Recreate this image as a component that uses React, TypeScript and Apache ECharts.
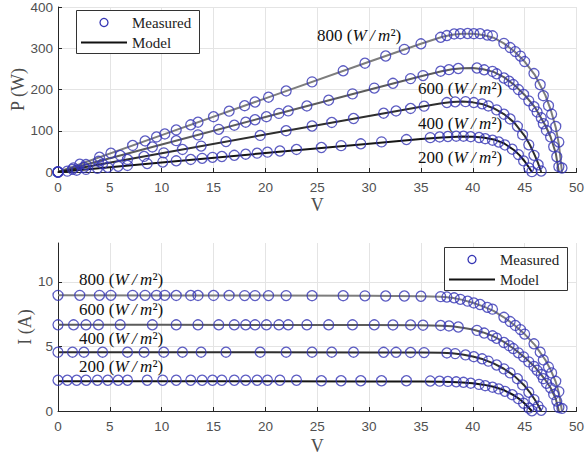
import React, { useEffect, useRef } from "react";
import * as echarts from "echarts";

// Measured module data at four irradiance levels: voltage (V), current (A), power (W)
const V800 = [0, 2.1, 4.0, 5.1, 7.2, 8.4, 9.5, 10.3, 11.4, 12.8, 13.5, 15.0, 16.5, 18.0, 19.0, 20.3, 22.0, 24.5, 27.5, 29.6, 31.6, 33.4, 35.0, 36.9, 37.5, 38.2, 38.8, 39.5, 40.1, 40.7, 41.4, 41.9, 43.0, 43.6, 44.1, 44.6, 45.0, 45.9, 46.5, 46.8, 47.3, 47.6, 48.0, 48.3, 48.6];
const I800 = [8.95, 8.95, 8.95, 8.95, 8.95, 8.95, 8.95, 8.95, 8.94, 8.94, 8.94, 8.94, 8.94, 8.93, 8.93, 8.93, 8.93, 8.92, 8.92, 8.91, 8.9, 8.9, 8.88, 8.85, 8.82, 8.76, 8.64, 8.5, 8.36, 8.24, 8.02, 7.88, 7.25, 6.92, 6.62, 6.3, 5.95, 5.2, 4.55, 3.95, 3.4, 2.95, 2.3, 1.5, 0.2];
const P800 = [0, 18.8, 35.8, 45.6, 64.4, 75.2, 85.0, 92.2, 101.9, 114.4, 120.7, 134.1, 147.5, 160.7, 169.7, 181.3, 196.5, 218.5, 245.3, 263.7, 281.2, 297.3, 310.8, 326.6, 330.8, 334.6, 335.2, 335.8, 335.2, 335.4, 332.0, 330.2, 311.8, 301.7, 291.9, 281.0, 267.8, 238.7, 211.6, 184.9, 160.8, 140.4, 110.4, 72.5, 9.7];

const V600 = [0, 1.5, 2.7, 3.9, 6.0, 9.1, 11.4, 13.5, 15.5, 17.0, 18.1, 19.0, 20.1, 21.3, 22.2, 24.0, 26.1, 28.4, 30.5, 32.3, 34.0, 35.2, 36.9, 37.7, 38.6, 40.4, 41.1, 41.9, 42.3, 43.0, 43.5, 43.9, 44.4, 44.9, 45.4, 45.9, 46.2, 46.6, 46.8, 47.1, 47.5, 47.8, 48.1, 48.3];
const I600 = [6.67, 6.67, 6.67, 6.67, 6.67, 6.67, 6.67, 6.67, 6.67, 6.67, 6.67, 6.67, 6.67, 6.67, 6.67, 6.67, 6.67, 6.67, 6.67, 6.66, 6.66, 6.64, 6.62, 6.58, 6.5, 6.24, 6.03, 5.82, 5.63, 5.3, 5.06, 4.83, 4.5, 4.19, 3.8, 3.45, 3.15, 2.82, 2.5, 2.14, 1.79, 1.28, 0.77, 0.27];
const P600 = [0, 10.0, 18.0, 26.0, 40.0, 60.7, 76.0, 90.0, 103.4, 113.4, 120.7, 126.7, 134.1, 142.1, 148.1, 160.1, 174.1, 189.4, 203.4, 215.1, 226.4, 233.7, 244.3, 248.1, 250.9, 252.1, 247.8, 243.9, 238.1, 227.9, 220.1, 212.0, 199.8, 188.1, 172.5, 158.4, 145.5, 131.4, 117.0, 100.8, 85.0, 61.2, 37.0, 13.0];

const V400 = [0, 1.4, 2.5, 4.3, 6.7, 8.3, 10.2, 12.0, 13.8, 16.2, 19.5, 22.0, 24.5, 26.4, 28.5, 31.4, 32.6, 34.0, 35.3, 37.5, 38.3, 39.3, 40.1, 40.9, 41.5, 42.3, 43.0, 43.6, 44.3, 44.8, 45.4, 45.9, 46.3, 46.6];
const I400 = [4.55, 4.55, 4.55, 4.55, 4.55, 4.55, 4.55, 4.55, 4.55, 4.55, 4.55, 4.55, 4.55, 4.55, 4.55, 4.54, 4.54, 4.53, 4.52, 4.49, 4.44, 4.34, 4.2, 4.04, 3.86, 3.56, 3.26, 2.95, 2.5, 2.02, 1.45, 0.88, 0.38, 0.05];
const P400 = [0, 6.4, 11.4, 19.6, 30.5, 37.8, 46.4, 54.6, 62.8, 73.7, 88.7, 100.1, 111.5, 120.1, 129.7, 142.6, 148.0, 154.0, 159.6, 168.4, 170.1, 170.6, 168.4, 165.2, 160.2, 150.6, 140.2, 128.6, 110.8, 90.5, 65.8, 40.4, 17.6, 2.3];

const V200 = [0, 0.9, 1.8, 2.7, 3.8, 4.8, 5.8, 6.7, 8.6, 10.1, 11.4, 12.8, 13.9, 14.9, 15.8, 17.0, 18.1, 19.2, 20.2, 21.4, 23.0, 25.4, 27.3, 29.2, 31.2, 33.6, 35.9, 36.8, 37.6, 38.4, 39.1, 39.8, 40.6, 41.2, 41.9, 42.5, 43.1, 43.8, 44.4, 44.9, 45.4, 45.7];
const I200 = [2.38, 2.38, 2.38, 2.38, 2.38, 2.38, 2.38, 2.38, 2.38, 2.38, 2.38, 2.38, 2.38, 2.38, 2.38, 2.38, 2.38, 2.38, 2.38, 2.38, 2.38, 2.34, 2.34, 2.34, 2.34, 2.34, 2.32, 2.31, 2.29, 2.26, 2.22, 2.15, 2.06, 1.96, 1.84, 1.71, 1.52, 1.26, 0.95, 0.6, 0.22, 0.02];
const P200 = [0, 2.1, 4.3, 6.4, 9.0, 11.4, 13.8, 15.9, 20.5, 24.0, 27.1, 30.5, 33.1, 35.5, 37.6, 40.5, 43.1, 45.7, 48.1, 50.9, 54.7, 59.4, 63.9, 68.3, 73.0, 78.6, 83.3, 85.0, 86.1, 86.8, 86.8, 85.6, 83.6, 80.8, 77.1, 72.7, 65.5, 55.2, 42.2, 26.9, 10.0, 0.9];

// Model curves (single-diode fit) at the same irradiance levels
const MV800 = [0, 10, 20, 30, 35, 37, 38, 39, 40, 41, 42, 43, 44, 45, 46, 47, 47.5, 48, 48.3, 48.6];
const MI800 = [8.95, 8.94, 8.93, 8.91, 8.88, 8.84, 8.76, 8.6, 8.38, 8.1, 7.75, 7.25, 6.65, 5.95, 5.1, 3.95, 3.2, 2.25, 1.4, 0];
const MP800 = [0, 89.4, 178.6, 267.3, 310.8, 327.1, 332.9, 335.4, 335.2, 332.1, 325.5, 311.8, 292.6, 267.8, 234.6, 185.7, 152.0, 108.0, 67.6, 0];

const MV600 = [0, 10, 20, 30, 35, 37, 38, 39, 40, 41, 42, 43, 44, 45, 46, 47, 47.5, 48, 48.3];
const MI600 = [6.67, 6.67, 6.66, 6.65, 6.63, 6.6, 6.55, 6.45, 6.3, 6.08, 5.78, 5.35, 4.8, 4.15, 3.4, 2.4, 1.8, 0.95, 0];
const MP600 = [0, 66.7, 133.2, 199.5, 232.1, 244.2, 248.9, 251.6, 252.0, 249.3, 242.8, 230.1, 211.2, 186.8, 156.4, 112.8, 85.5, 45.6, 0];

const MV400 = [0, 10, 20, 30, 35, 37, 38, 39, 40, 41, 42, 43, 44, 45, 45.5, 46, 46.3, 46.6];
const MI400 = [4.55, 4.55, 4.54, 4.53, 4.52, 4.5, 4.46, 4.38, 4.22, 4.0, 3.68, 3.27, 2.72, 1.95, 1.45, 0.85, 0.45, 0];
const MP400 = [0, 45.5, 90.8, 135.9, 158.2, 166.5, 169.5, 170.8, 168.8, 164.0, 154.6, 140.6, 119.7, 87.8, 66.0, 39.1, 20.8, 0];

const MV200 = [0, 10, 20, 30, 35, 37, 38, 39, 40, 41, 42, 43, 44, 44.5, 45, 45.4, 45.7];
const MI200 = [2.3, 2.3, 2.3, 2.29, 2.28, 2.26, 2.24, 2.2, 2.14, 2.04, 1.88, 1.62, 1.2, 0.92, 0.58, 0.25, 0];
const MP200 = [0, 23.0, 46.0, 68.7, 79.8, 83.6, 85.1, 85.8, 85.6, 83.6, 79.0, 69.7, 52.8, 40.9, 26.1, 11.4, 0];

const IRRADIANCE = ["800", "600", "400", "200"];
const LEGEND = ["Measured", "Model"];

const MODEL_COLORS = ["#7d7d7d", "#5c5c5c", "#2e2e2e", "#151515"];
const MARKER_COLOR = "#3535b4";
const SERIF = "Liberation Serif";
const SANS = "Liberation Sans";

const pairs = (xs: number[], ys: number[]) => xs.map((x, k) => [x, ys[k]]);

function modelSeries(xs: number[], ys: number[], idx: number, color: string) {
  return {
    type: "line",
    xAxisIndex: idx,
    yAxisIndex: idx,
    data: pairs(xs, ys),
    showSymbol: false,
    smooth: false,
    lineStyle: { color, width: 2, join: "round" },
    z: 2,
    silent: true,
  };
}

function measuredSeries(xs: number[], ys: number[], idx: number) {
  return {
    type: "scatter",
    xAxisIndex: idx,
    yAxisIndex: idx,
    data: pairs(xs, ys),
    symbol: "circle",
    symbolSize: 10,
    itemStyle: { color: "rgba(0,0,0,0)", borderColor: MARKER_COLOR, borderWidth: 1.3 },
    z: 3,
    silent: true,
  };
}

const labelRich = {
  n: { font: `17px "${SERIF}"`, fontFamily: SERIF, fontSize: 17, fill: "#111" },
  i: { font: `italic 17px "${SERIF}"`, fontFamily: SERIF, fontSize: 17, fontStyle: "italic", fill: "#111" },
};

function irrLabel(level: string, x: number, y: number) {
  return {
    type: "text",
    x,
    y,
    z: 10,
    style: {
      text: `{n|${level} (}{i|W\u2009/\u2009m}{n|\u00b2)}`,
      rich: labelRich,
      align: "left",
      verticalAlign: "middle",
    },
  };
}

function legendBox(x: number, y: number) {
  const txt = { fontFamily: SERIF, fontSize: 15, fill: "#222", verticalAlign: "middle", align: "left" };
  return {
    type: "group",
    x,
    y,
    z: 20,
    children: [
      { type: "rect", z: 20, shape: { x: 0.5, y: 0.5, width: 123, height: 43 }, style: { fill: "#fff", stroke: "#333", lineWidth: 1 } },
      { type: "circle", z: 21, shape: { cx: 28, cy: 12.5, r: 4 }, style: { fill: "none", stroke: MARKER_COLOR, lineWidth: 1.3 } },
      { type: "line", z: 21, shape: { x1: 5, y1: 32.5, x2: 51, y2: 32.5 }, style: { stroke: "#111", lineWidth: 2 } },
      { type: "text", z: 21, x: 56, y: 13, style: { ...txt, text: LEGEND[0] } },
      { type: "text", z: 21, x: 56, y: 33, style: { ...txt, text: LEGEND[1] } },
    ],
  };
}

const axisCommon = {
  axisLine: { show: true, onZero: false, lineStyle: { color: "#262626", width: 1 } },
  axisTick: { show: true, inside: true, length: 4, lineStyle: { color: "#262626" } },
  axisLabel: { color: "#505050", fontFamily: SANS, fontSize: 13.5 },
  nameTextStyle: { color: "#4d4d4d", fontFamily: SERIF, fontSize: 18 },
  nameLocation: "middle",
  nameMoveOverlap: false,
};

export default function App() {
  const ref = useRef<HTMLDivElement>(null);

  useEffect(() => {
    if (!ref.current) return;
    const chart = echarts.init(ref.current, undefined, { renderer: "svg" });
    const gridLine = { show: true, lineStyle: { color: "#e4e4e4", width: 1 } };

    chart.setOption({
      animation: false,
      backgroundColor: "#fff",
      grid: [
        { left: 58, top: 5, width: 522, height: 167 },
        { left: 58, top: 243, width: 522, height: 169 },
      ],
      xAxis: [0, 1].map((g) => ({
        ...axisCommon,
        type: "value",
        gridIndex: g,
        min: 0,
        max: 50,
        interval: 5,
        name: "V",
        nameGap: g === 0 ? 24 : 26,
        axisLabel: { ...axisCommon.axisLabel, margin: 8 },
        splitLine: gridLine,
      })),
      yAxis: [
        {
          ...axisCommon,
          type: "value",
          gridIndex: 0,
          min: 0,
          max: 400,
          interval: 100,
          name: "P (W)",
          nameGap: 31,
          axisLabel: { ...axisCommon.axisLabel, margin: 5 },
          splitLine: gridLine,
        },
        {
          ...axisCommon,
          type: "value",
          gridIndex: 1,
          min: 0,
          max: 13,
          interval: 5,
          name: "I (A)",
          nameGap: 24,
          axisLabel: { ...axisCommon.axisLabel, margin: 5, showMaxLabel: false },
          axisTick: { ...axisCommon.axisTick, customValues: [0, 5, 10] },
          splitLine: {
            show: true,
            lineStyle: { color: ["#e4e4e4", "#e4e4e4", "#e4e4e4", "rgba(0,0,0,0)"], width: 1 },
          },
        },
      ],
      series: [
        modelSeries(MV800, MP800, 0, MODEL_COLORS[0]),
        modelSeries(MV600, MP600, 0, MODEL_COLORS[1]),
        modelSeries(MV400, MP400, 0, MODEL_COLORS[2]),
        modelSeries(MV200, MP200, 0, MODEL_COLORS[3]),
        measuredSeries(V800, P800, 0),
        measuredSeries(V600, P600, 0),
        measuredSeries(V400, P400, 0),
        measuredSeries(V200, P200, 0),
        modelSeries(MV800, MI800, 1, MODEL_COLORS[0]),
        modelSeries(MV600, MI600, 1, MODEL_COLORS[1]),
        modelSeries(MV400, MI400, 1, MODEL_COLORS[2]),
        modelSeries(MV200, MI200, 1, MODEL_COLORS[3]),
        measuredSeries(V800, I800, 1),
        measuredSeries(V600, I600, 1),
        measuredSeries(V400, I400, 1),
        measuredSeries(V200, I200, 1),
      ],
      graphic: [
        irrLabel(IRRADIANCE[0], 317, 35),
        irrLabel(IRRADIANCE[1], 418, 88),
        irrLabel(IRRADIANCE[2], 418, 123),
        irrLabel(IRRADIANCE[3], 418, 157),
        irrLabel(IRRADIANCE[0], 79, 279),
        irrLabel(IRRADIANCE[1], 79, 309),
        irrLabel(IRRADIANCE[2], 79, 338),
        irrLabel(IRRADIANCE[3], 79, 366),
        legendBox(76, 10),
        legendBox(444, 247),
      ],
    });

    return () => chart.dispose();
  }, []);

  return (
    <div
      ref={ref}
      style={{ position: "absolute", left: 0, top: 0, width: 587, height: 456, background: "#fff" }}
    />
  );
}
